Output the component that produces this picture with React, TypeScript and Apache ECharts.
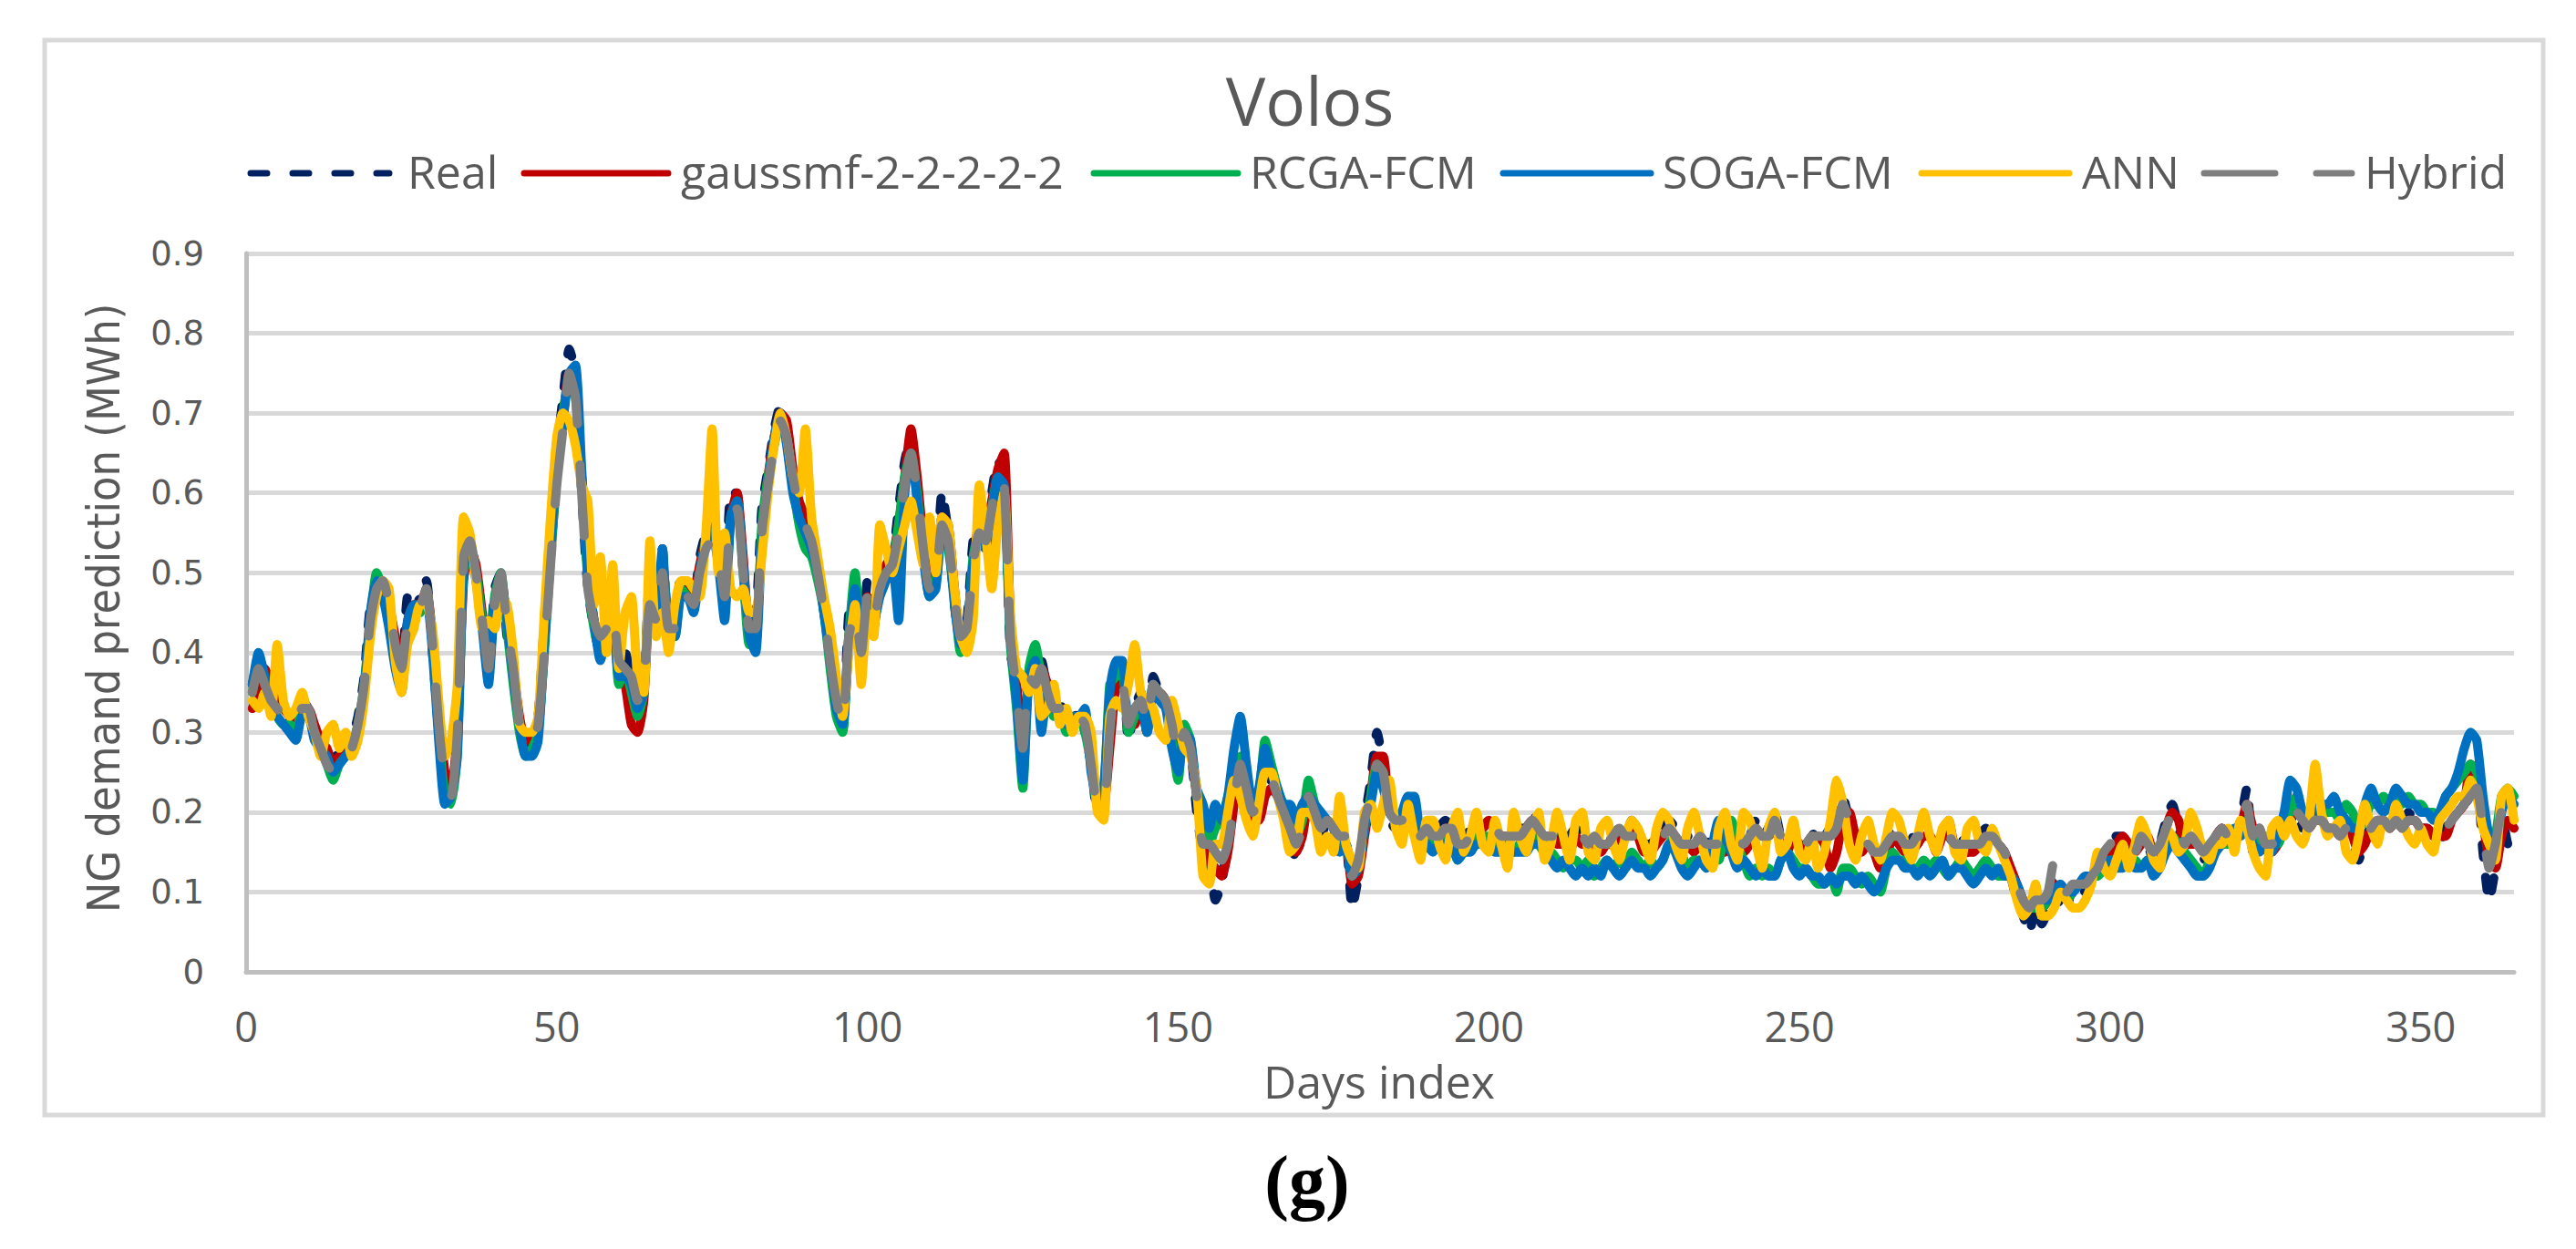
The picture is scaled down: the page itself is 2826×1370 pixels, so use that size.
import React, { useEffect, useRef } from "react";
import * as echarts from "echarts";

const TITLE = "Volos";
const X_NAME = "Days index";
const Y_NAME = "NG demand prediction (MWh)";
const CAPTION = "(g)";
const SERIES_NAMES = ["Real", "gaussmf-2-2-2-2-2", "RCGA-FCM", "SOGA-FCM", "ANN", "Hybrid"];
const SERIES_COLORS = ["#002060", "#C00000", "#00B050", "#0070C0", "#FFC000", "#7F7F7F"];

// Real
const real = [
  0.36,0.39,0.37,0.34,0.33,0.33,0.31,0.32,0.34,0.33,
  0.30,0.29,0.27,0.26,0.28,0.27,0.29,0.32,0.37,0.46,
  0.48,0.49,0.45,0.40,0.38,0.47,0.45,0.47,0.49,0.40,
  0.30,0.23,0.22,0.33,0.53,0.54,0.50,0.44,0.38,0.48,
  0.50,0.42,0.38,0.31,0.28,0.29,0.32,0.44,0.55,0.65,
  0.72,0.78,0.75,0.60,0.48,0.43,0.40,0.43,0.46,0.37,
  0.40,0.37,0.33,0.36,0.50,0.43,0.53,0.42,0.43,0.50,
  0.47,0.47,0.52,0.55,0.56,0.52,0.46,0.60,0.60,0.50,
  0.42,0.44,0.58,0.63,0.68,0.71,0.68,0.62,0.58,0.57,
  0.55,0.50,0.45,0.39,0.33,0.30,0.45,0.46,0.40,0.49,
  0.43,0.49,0.51,0.52,0.58,0.64,0.67,0.60,0.53,0.48,
  0.50,0.60,0.55,0.46,0.41,0.44,0.54,0.57,0.55,0.60,
  0.64,0.62,0.40,0.36,0.27,0.38,0.36,0.39,0.35,0.33,
  0.34,0.30,0.31,0.33,0.30,0.26,0.20,0.22,0.31,0.38,
  0.38,0.29,0.33,0.35,0.30,0.37,0.35,0.34,0.30,0.27,
  0.31,0.28,0.20,0.15,0.14,0.09,0.11,0.17,0.24,0.26,
  0.23,0.18,0.20,0.23,0.24,0.22,0.20,0.17,0.14,0.18,
  0.22,0.20,0.17,0.19,0.17,0.15,0.16,0.08,0.12,0.19,
  0.24,0.30,0.26,0.19,0.18,0.19,0.20,0.21,0.16,0.18,
  0.16,0.18,0.19,0.18,0.14,0.16,0.18,0.19,0.18,0.19,
  0.18,0.16,0.17,0.17,0.18,0.18,0.20,0.18,0.16,0.17,
  0.17,0.16,0.17,0.18,0.17,0.17,0.17,0.15,0.16,0.17,
  0.18,0.17,0.19,0.17,0.16,0.16,0.17,0.18,0.19,0.18,
  0.16,0.17,0.16,0.17,0.16,0.17,0.15,0.16,0.18,0.17,
  0.16,0.17,0.19,0.17,0.18,0.20,0.17,0.16,0.18,0.17,
  0.16,0.17,0.18,0.17,0.18,0.17,0.22,0.19,0.17,0.16,
  0.17,0.15,0.14,0.16,0.18,0.17,0.15,0.17,0.16,0.18,
  0.17,0.16,0.18,0.17,0.16,0.17,0.15,0.16,0.17,0.18,
  0.17,0.16,0.15,0.12,0.09,0.07,0.05,0.08,0.06,0.08,
  0.12,0.08,0.08,0.11,0.11,0.10,0.12,0.14,0.15,0.16,
  0.17,0.17,0.15,0.15,0.17,0.16,0.14,0.16,0.19,0.21,
  0.18,0.15,0.17,0.15,0.14,0.16,0.17,0.18,0.16,0.17,
  0.19,0.23,0.15,0.18,0.15,0.15,0.17,0.18,0.19,0.20,
  0.18,0.18,0.20,0.19,0.18,0.18,0.17,0.18,0.16,0.14,
  0.17,0.18,0.19,0.19,0.18,0.19,0.18,0.20,0.19,0.18,
  0.18,0.17,0.16,0.18,0.19,0.20,0.21,0.22,0.24,0.15,
  0.09,0.13,0.20,0.16,0.15,
];

// gaussmf-2-2-2-2-2
const gaussmf = [
  0.33,0.35,0.38,0.36,0.34,0.33,0.32,0.31,0.33,0.33,
  0.31,0.29,0.28,0.26,0.27,0.28,0.28,0.31,0.35,0.43,
  0.47,0.48,0.46,0.42,0.39,0.44,0.46,0.46,0.48,0.42,
  0.33,0.25,0.23,0.30,0.49,0.53,0.51,0.45,0.39,0.45,
  0.49,0.44,0.38,0.32,0.29,0.29,0.31,0.41,0.52,0.62,
  0.69,0.75,0.74,0.62,0.50,0.44,0.41,0.42,0.45,0.38,
  0.36,0.31,0.30,0.34,0.46,0.45,0.51,0.44,0.43,0.48,
  0.48,0.47,0.51,0.54,0.55,0.53,0.47,0.57,0.60,0.52,
  0.43,0.43,0.55,0.62,0.67,0.70,0.69,0.63,0.59,0.57,
  0.55,0.51,0.46,0.40,0.34,0.31,0.42,0.46,0.41,0.47,
  0.45,0.48,0.51,0.52,0.56,0.62,0.68,0.62,0.54,0.49,
  0.49,0.57,0.56,0.48,0.42,0.43,0.51,0.56,0.55,0.59,
  0.63,0.65,0.44,0.36,0.29,0.36,0.37,0.38,0.36,0.33,
  0.33,0.31,0.31,0.32,0.31,0.27,0.22,0.21,0.28,0.36,
  0.38,0.31,0.31,0.34,0.30,0.35,0.35,0.34,0.31,0.28,
  0.30,0.28,0.22,0.17,0.14,0.13,0.12,0.15,0.21,0.25,
  0.24,0.19,0.19,0.22,0.23,0.22,0.20,0.18,0.15,0.17,
  0.21,0.20,0.18,0.19,0.18,0.16,0.16,0.11,0.12,0.17,
  0.22,0.27,0.27,0.20,0.19,0.18,0.19,0.20,0.17,0.18,
  0.17,0.17,0.18,0.18,0.15,0.16,0.17,0.18,0.18,0.19,
  0.18,0.17,0.17,0.17,0.17,0.18,0.19,0.18,0.17,0.17,
  0.16,0.16,0.15,0.17,0.16,0.16,0.15,0.15,0.16,0.16,
  0.17,0.17,0.18,0.17,0.15,0.15,0.16,0.17,0.18,0.17,
  0.16,0.16,0.15,0.16,0.15,0.16,0.15,0.15,0.17,0.16,
  0.15,0.16,0.18,0.17,0.17,0.18,0.16,0.15,0.17,0.16,
  0.15,0.16,0.17,0.16,0.13,0.15,0.19,0.20,0.17,0.15,
  0.16,0.15,0.13,0.14,0.17,0.16,0.15,0.15,0.16,0.17,
  0.17,0.15,0.17,0.19,0.16,0.16,0.15,0.15,0.16,0.17,
  0.17,0.16,0.15,0.13,0.11,0.09,0.08,0.08,0.08,0.09,
  0.11,0.10,0.09,0.10,0.11,0.11,0.12,0.13,0.14,0.15,
  0.16,0.17,0.16,0.15,0.16,0.17,0.15,0.15,0.18,0.20,
  0.19,0.16,0.16,0.16,0.15,0.15,0.17,0.18,0.17,0.17,
  0.18,0.21,0.18,0.17,0.16,0.15,0.16,0.18,0.19,0.22,
  0.19,0.18,0.19,0.19,0.18,0.18,0.17,0.18,0.17,0.15,
  0.16,0.18,0.19,0.19,0.18,0.19,0.18,0.19,0.19,0.18,
  0.18,0.17,0.17,0.17,0.19,0.20,0.21,0.26,0.25,0.19,
  0.14,0.13,0.17,0.19,0.18,
];

// RCGA-FCM
const rcga = [
  0.35,0.38,0.36,0.34,0.32,0.31,0.31,0.30,0.33,0.32,
  0.30,0.28,0.26,0.24,0.26,0.27,0.28,0.31,0.36,0.44,
  0.50,0.48,0.44,0.40,0.36,0.43,0.45,0.45,0.48,0.41,
  0.30,0.22,0.21,0.28,0.50,0.52,0.50,0.44,0.37,0.47,
  0.50,0.43,0.36,0.30,0.27,0.28,0.30,0.40,0.52,0.62,
  0.70,0.74,0.72,0.62,0.49,0.43,0.40,0.42,0.45,0.36,
  0.38,0.35,0.32,0.35,0.47,0.44,0.52,0.43,0.42,0.48,
  0.47,0.46,0.50,0.54,0.55,0.52,0.45,0.57,0.59,0.50,
  0.41,0.41,0.56,0.62,0.66,0.69,0.67,0.61,0.56,0.53,
  0.52,0.49,0.45,0.38,0.32,0.30,0.42,0.50,0.43,0.46,
  0.44,0.48,0.50,0.51,0.56,0.62,0.65,0.60,0.52,0.47,
  0.49,0.56,0.53,0.47,0.40,0.42,0.52,0.55,0.53,0.58,
  0.62,0.60,0.41,0.33,0.23,0.38,0.41,0.37,0.35,0.32,
  0.33,0.30,0.31,0.32,0.30,0.26,0.21,0.22,0.36,0.37,
  0.38,0.30,0.32,0.34,0.30,0.36,0.35,0.34,0.29,0.24,
  0.31,0.29,0.22,0.18,0.16,0.18,0.19,0.22,0.25,0.27,
  0.24,0.20,0.22,0.29,0.26,0.23,0.21,0.20,0.17,0.19,
  0.24,0.21,0.19,0.19,0.18,0.16,0.16,0.12,0.13,0.18,
  0.22,0.26,0.25,0.20,0.19,0.18,0.22,0.21,0.17,0.17,
  0.16,0.17,0.17,0.17,0.14,0.15,0.16,0.17,0.17,0.17,
  0.16,0.15,0.16,0.15,0.16,0.16,0.17,0.16,0.15,0.15,
  0.14,0.13,0.14,0.14,0.13,0.14,0.12,0.13,0.14,0.13,
  0.14,0.13,0.15,0.14,0.13,0.14,0.13,0.14,0.16,0.17,
  0.15,0.13,0.14,0.14,0.13,0.15,0.14,0.18,0.19,0.16,
  0.14,0.12,0.13,0.12,0.13,0.12,0.14,0.15,0.14,0.13,
  0.13,0.12,0.11,0.11,0.12,0.10,0.13,0.13,0.12,0.11,
  0.12,0.11,0.10,0.13,0.15,0.14,0.14,0.13,0.13,0.14,
  0.13,0.14,0.13,0.12,0.13,0.14,0.13,0.12,0.13,0.14,
  0.13,0.12,0.12,0.12,0.10,0.09,0.08,0.08,0.08,0.09,
  0.10,0.10,0.09,0.10,0.11,0.11,0.12,0.12,0.13,0.14,
  0.14,0.13,0.14,0.14,0.13,0.14,0.13,0.14,0.15,0.17,
  0.16,0.15,0.14,0.13,0.12,0.14,0.15,0.16,0.16,0.17,
  0.18,0.19,0.17,0.16,0.17,0.16,0.16,0.18,0.20,0.22,
  0.20,0.19,0.20,0.21,0.20,0.20,0.19,0.21,0.20,0.18,
  0.19,0.21,0.21,0.22,0.21,0.22,0.21,0.22,0.21,0.21,
  0.20,0.20,0.19,0.22,0.23,0.24,0.25,0.26,0.25,0.20,
  0.16,0.17,0.22,0.23,0.22,
];

// SOGA-FCM
const soga = [
  0.36,0.40,0.37,0.33,0.32,0.31,0.30,0.29,0.32,0.32,
  0.29,0.28,0.27,0.25,0.26,0.27,0.28,0.30,0.35,0.45,
  0.49,0.47,0.43,0.38,0.35,0.44,0.46,0.46,0.47,0.40,
  0.29,0.21,0.22,0.27,0.51,0.53,0.49,0.43,0.36,0.46,
  0.49,0.44,0.37,0.31,0.27,0.27,0.29,0.41,0.53,0.63,
  0.69,0.75,0.76,0.63,0.50,0.44,0.39,0.42,0.45,0.37,
  0.37,0.36,0.33,0.35,0.48,0.45,0.53,0.42,0.42,0.47,
  0.47,0.45,0.50,0.54,0.55,0.51,0.44,0.57,0.59,0.51,
  0.42,0.40,0.54,0.61,0.67,0.70,0.66,0.60,0.57,0.55,
  0.53,0.50,0.45,0.39,0.33,0.31,0.41,0.48,0.44,0.45,
  0.44,0.47,0.49,0.51,0.44,0.60,0.65,0.59,0.52,0.47,
  0.48,0.55,0.54,0.46,0.41,0.43,0.51,0.54,0.53,0.57,
  0.62,0.61,0.42,0.34,0.24,0.37,0.39,0.30,0.35,0.33,
  0.32,0.31,0.32,0.32,0.33,0.25,0.22,0.23,0.35,0.39,
  0.39,0.31,0.33,0.33,0.30,0.36,0.34,0.33,0.28,0.25,
  0.30,0.29,0.23,0.21,0.18,0.21,0.19,0.22,0.28,0.32,
  0.26,0.21,0.23,0.28,0.25,0.23,0.21,0.21,0.19,0.21,
  0.22,0.21,0.20,0.19,0.18,0.15,0.16,0.12,0.13,0.18,
  0.21,0.25,0.23,0.20,0.19,0.20,0.22,0.22,0.17,0.16,
  0.15,0.16,0.16,0.16,0.14,0.15,0.15,0.16,0.16,0.16,
  0.15,0.15,0.16,0.15,0.15,0.15,0.16,0.16,0.15,0.14,
  0.13,0.14,0.13,0.12,0.13,0.12,0.13,0.12,0.14,0.13,
  0.12,0.13,0.14,0.13,0.13,0.12,0.13,0.14,0.16,0.15,
  0.13,0.12,0.13,0.14,0.13,0.16,0.19,0.17,0.15,0.13,
  0.14,0.13,0.12,0.13,0.12,0.12,0.14,0.15,0.13,0.12,
  0.13,0.12,0.12,0.11,0.12,0.11,0.12,0.12,0.11,0.12,
  0.11,0.10,0.11,0.13,0.14,0.14,0.13,0.13,0.12,0.13,
  0.12,0.13,0.14,0.12,0.13,0.13,0.12,0.11,0.12,0.13,
  0.12,0.13,0.12,0.12,0.11,0.09,0.08,0.09,0.09,0.09,
  0.10,0.11,0.10,0.10,0.11,0.12,0.12,0.13,0.13,0.14,
  0.13,0.13,0.14,0.13,0.13,0.14,0.12,0.13,0.15,0.16,
  0.15,0.14,0.13,0.12,0.12,0.13,0.15,0.16,0.17,0.18,
  0.17,0.18,0.16,0.15,0.16,0.15,0.17,0.20,0.24,0.23,
  0.20,0.19,0.20,0.21,0.21,0.22,0.20,0.19,0.18,0.18,
  0.21,0.23,0.21,0.20,0.21,0.23,0.22,0.21,0.21,0.20,
  0.20,0.19,0.20,0.22,0.23,0.25,0.28,0.30,0.29,0.22,
  0.17,0.16,0.20,0.22,0.21,
];

// ANN
const ann = [
  0.34,0.33,0.35,0.32,0.41,0.34,0.32,0.33,0.35,0.32,
  0.30,0.27,0.30,0.31,0.28,0.30,0.27,0.29,0.34,0.42,
  0.47,0.49,0.48,0.39,0.35,0.41,0.43,0.46,0.46,0.43,
  0.34,0.27,0.29,0.36,0.57,0.55,0.49,0.43,0.44,0.43,
  0.47,0.46,0.40,0.31,0.30,0.30,0.32,0.45,0.57,0.67,
  0.70,0.69,0.66,0.61,0.59,0.46,0.52,0.40,0.51,0.38,
  0.45,0.47,0.37,0.35,0.54,0.42,0.45,0.40,0.46,0.49,
  0.49,0.48,0.47,0.55,0.68,0.50,0.55,0.48,0.47,0.48,
  0.45,0.45,0.52,0.60,0.66,0.70,0.67,0.62,0.60,0.68,
  0.57,0.52,0.47,0.43,0.37,0.32,0.40,0.46,0.36,0.45,
  0.42,0.56,0.53,0.50,0.53,0.56,0.59,0.55,0.51,0.57,
  0.50,0.57,0.56,0.48,0.42,0.40,0.44,0.61,0.55,0.48,
  0.56,0.60,0.45,0.38,0.37,0.35,0.38,0.32,0.33,0.36,
  0.31,0.33,0.30,0.32,0.32,0.30,0.20,0.19,0.32,0.34,
  0.33,0.36,0.41,0.35,0.34,0.33,0.30,0.29,0.34,0.31,
  0.28,0.27,0.23,0.12,0.11,0.16,0.16,0.20,0.24,0.22,
  0.19,0.17,0.21,0.25,0.25,0.22,0.19,0.15,0.16,0.20,
  0.20,0.19,0.15,0.17,0.15,0.22,0.16,0.14,0.13,0.20,
  0.21,0.18,0.21,0.24,0.18,0.16,0.21,0.17,0.14,0.19,
  0.19,0.16,0.14,0.18,0.20,0.15,0.17,0.20,0.16,0.15,
  0.19,0.16,0.13,0.20,0.17,0.15,0.18,0.20,0.14,0.16,
  0.20,0.17,0.14,0.19,0.20,0.15,0.14,0.18,0.19,0.16,
  0.14,0.17,0.19,0.18,0.16,0.14,0.18,0.20,0.19,0.16,
  0.14,0.18,0.20,0.17,0.14,0.13,0.18,0.20,0.16,0.14,
  0.20,0.19,0.16,0.13,0.18,0.20,0.15,0.16,0.19,0.15,
  0.14,0.17,0.13,0.15,0.19,0.24,0.21,0.16,0.14,0.17,
  0.19,0.16,0.14,0.17,0.20,0.19,0.16,0.14,0.17,0.20,
  0.17,0.15,0.18,0.19,0.15,0.14,0.18,0.19,0.16,0.15,
  0.18,0.16,0.14,0.12,0.09,0.07,0.08,0.11,0.07,0.07,
  0.08,0.10,0.09,0.08,0.08,0.09,0.11,0.15,0.13,0.12,
  0.14,0.16,0.13,0.16,0.19,0.17,0.14,0.13,0.18,0.17,
  0.15,0.16,0.20,0.18,0.15,0.14,0.16,0.16,0.18,0.15,
  0.19,0.18,0.15,0.13,0.12,0.18,0.19,0.17,0.19,0.17,
  0.16,0.19,0.26,0.20,0.17,0.18,0.19,0.15,0.14,0.17,
  0.21,0.18,0.16,0.19,0.18,0.21,0.19,0.17,0.16,0.18,
  0.16,0.15,0.19,0.20,0.21,0.22,0.22,0.24,0.22,0.18,
  0.16,0.14,0.22,0.23,0.19,
];

// Hybrid
const hybrid = [
  0.35,0.38,0.36,0.34,0.33,0.32,0.32,0.31,0.33,0.33,
  0.30,0.28,0.26,0.25,0.27,0.27,0.28,0.31,0.36,0.44,
  0.48,0.49,0.46,0.41,0.38,0.44,0.46,0.46,0.48,0.41,
  0.31,0.24,0.22,0.30,0.52,0.54,0.50,0.44,0.38,0.46,
  0.50,0.43,0.38,0.31,0.29,0.29,0.31,0.40,0.51,0.61,
  0.68,0.75,0.72,0.60,0.48,0.44,0.42,0.43,0.45,0.39,
  0.38,0.37,0.34,0.36,0.46,0.44,0.50,0.43,0.43,0.47,
  0.47,0.46,0.50,0.53,0.54,0.52,0.47,0.57,0.58,0.50,
  0.43,0.43,0.55,0.61,0.66,0.69,0.67,0.62,0.58,0.56,
  0.54,0.50,0.45,0.39,0.34,0.31,0.42,0.45,0.40,0.47,
  0.44,0.48,0.50,0.51,0.55,0.61,0.65,0.60,0.53,0.48,
  0.49,0.56,0.54,0.47,0.42,0.43,0.51,0.55,0.54,0.58,
  0.62,0.61,0.42,0.35,0.28,0.37,0.36,0.38,0.35,0.33,
  0.33,0.31,0.31,0.32,0.31,0.26,0.21,0.21,0.30,0.36,
  0.36,0.31,0.33,0.34,0.31,0.36,0.35,0.34,0.31,0.27,
  0.30,0.28,0.22,0.16,0.16,0.15,0.14,0.16,0.21,0.26,
  0.23,0.20,0.21,0.23,0.24,0.22,0.20,0.18,0.16,0.18,
  0.22,0.20,0.18,0.19,0.18,0.17,0.17,0.12,0.14,0.19,
  0.22,0.26,0.25,0.20,0.19,0.19,0.20,0.20,0.17,0.18,
  0.17,0.17,0.18,0.18,0.16,0.16,0.17,0.18,0.18,0.18,
  0.18,0.17,0.17,0.17,0.17,0.18,0.19,0.18,0.17,0.17,
  0.17,0.16,0.17,0.17,0.17,0.16,0.17,0.16,0.16,0.17,
  0.18,0.17,0.17,0.17,0.16,0.16,0.17,0.17,0.18,0.17,
  0.16,0.16,0.16,0.17,0.16,0.16,0.16,0.17,0.18,0.17,
  0.16,0.17,0.18,0.17,0.17,0.19,0.17,0.16,0.17,0.17,
  0.16,0.17,0.17,0.17,0.17,0.18,0.21,0.19,0.17,0.16,
  0.16,0.15,0.15,0.16,0.17,0.17,0.16,0.16,0.17,0.17,
  0.17,0.16,0.17,0.17,0.16,0.16,0.16,0.16,0.16,0.17,
  0.17,0.16,0.15,0.13,0.11,0.09,0.08,0.09,0.09,0.10,
  0.14,0.11,0.10,0.11,0.11,0.11,0.12,0.13,0.15,0.16,
  0.17,0.17,0.15,0.15,0.17,0.16,0.15,0.16,0.18,0.20,
  0.19,0.16,0.17,0.16,0.15,0.16,0.17,0.18,0.17,0.17,
  0.18,0.21,0.17,0.18,0.16,0.16,0.17,0.18,0.19,0.20,
  0.19,0.18,0.19,0.19,0.18,0.18,0.17,0.18,0.17,0.16,
  0.17,0.18,0.19,0.19,0.18,0.19,0.18,0.19,0.19,0.18,
  0.18,0.17,0.17,0.18,0.19,0.20,0.21,0.22,0.23,0.18,
  0.13,0.16,0.20,0.18,0.17,
];

const SERIES_VALUES = [real, gaussmf, rcga, soga, ann, hybrid];
const X_MIN = 0;
const X_MAX = 365;
const X_INTERVAL = 50;
const Y_MIN = 0;
const Y_MAX = 0.9;
const Y_INTERVAL = 0.1;

const TEXT = "#595959";
const W = 2810;
const H = 1354;

export default function App() {
  const ref = useRef<HTMLDivElement>(null);
  useEffect(() => {
    if (!ref.current) return;
    const chart = echarts.init(ref.current, undefined, { renderer: "svg" });

    const plotDash: (number[] | null)[] = [[14, 22], null, null, null, null, [78, 45]];
    const legendDash: (number[] | null)[] = [[18, 28], null, null, null, null, [78, 45]];

    const series = SERIES_NAMES.map((name, k) => ({
      name,
      type: "line",
      data: SERIES_VALUES[k].map((v, i) => [i + 1, v]),
      symbol: "none",
      smooth: 0.2,
      lineStyle: {
        color: SERIES_COLORS[k],
        width: 10,
        cap: "round",
        join: "round",
        type: plotDash[k] ? plotDash[k] : "solid",
      },
      z: 2 + k,
    }));

    // legend geometry (chart coords)
    const legendIcons = [
      [267, 419], [567, 725], [1192, 1350], [1641, 1803], [2100, 2262], [2410, 2572],
    ];
    const legendTextX = [439, 739, 1363, 1816, 2276, 2586];
    const legendY = 182;
    const legendEls: any[] = [];
    SERIES_NAMES.forEach((name, k) => {
      legendEls.push({
        type: "line",
        shape: { x1: legendIcons[k][0], y1: legendY, x2: legendIcons[k][1], y2: legendY },
        style: {
          stroke: SERIES_COLORS[k],
          lineWidth: 7,
          lineCap: "round",
          lineDash: legendDash[k] ? legendDash[k] : null,
        },
      });
      legendEls.push({
        type: "text",
        x: legendTextX[k],
        y: legendY - 2,
        style: {
          text: name,
          fill: TEXT,
          fontFamily: "Open Sans",
          fontSize: 50,
          align: "left",
          verticalAlign: "middle",
        },
      });
    });

    chart.setOption({
      animation: false,
      backgroundColor: "#ffffff",
      grid: { left: 262, top: 270, width: 2488, height: 788, containLabel: false },
      xAxis: {
        type: "value",
        min: X_MIN,
        max: X_MAX,
        interval: X_INTERVAL,
        axisLine: { show: true, onZero: false, lineStyle: { color: "#bfbfbf", width: 5 } },
        axisTick: { show: false },
        splitLine: { show: false },
        axisLabel: {
          color: TEXT,
          fontFamily: "Open Sans",
          fontSize: 45,
          margin: 37,
          showMaxLabel: false,
        },
      },
      yAxis: {
        type: "value",
        min: Y_MIN,
        max: Y_MAX,
        interval: Y_INTERVAL,
        axisLine: { show: true, lineStyle: { color: "#bfbfbf", width: 5 } },
        axisTick: { show: false },
        splitLine: { show: true, lineStyle: { color: "#d9d9d9", width: 5 } },
        axisLabel: {
          color: TEXT,
          fontFamily: "DejaVu Sans",
          fontSize: 37,
          margin: 46,
          formatter: (v: number) => (v === 0 ? "0" : v.toFixed(1)),
        },
      },
      series,
      graphic: [
        {
          type: "rect",
          shape: { x: 41, y: 36, width: 2741, height: 1179 },
          style: { fill: "none", stroke: "#d9d9d9", lineWidth: 5 },
          z: -1,
        },
        {
          type: "text",
          x: 1429,
          y: 101,
          style: {
            text: TITLE,
            fill: TEXT,
            fontFamily: "Open Sans",
            fontSize: 73,
            align: "center",
            verticalAlign: "middle",
          },
        },
        ...legendEls,
        {
          type: "text",
          x: 1505,
          y: 1178,
          style: {
            text: X_NAME,
            fill: TEXT,
            fontFamily: "Open Sans",
            fontSize: 50,
            align: "center",
            verticalAlign: "middle",
          },
        },
        {
          type: "text",
          x: 106,
          y: 659,
          rotation: Math.PI / 2,
          style: {
            text: Y_NAME,
            fill: TEXT,
            fontFamily: "DejaVu Sans Condensed, DejaVu Sans",
            fontSize: 50,
            align: "center",
            verticalAlign: "middle",
          },
        },
        {
          type: "text",
          x: 1426,
          y: 1288,
          style: {
            text: CAPTION,
            fill: "#000000",
            fontFamily: "Liberation Serif",
            fontWeight: "bold",
            fontSize: 80,
            align: "center",
            verticalAlign: "middle",
          },
        },
      ],
    });
    return () => chart.dispose();
  }, []);
  return <div ref={ref} style={{ width: W, height: H }} />;
}
